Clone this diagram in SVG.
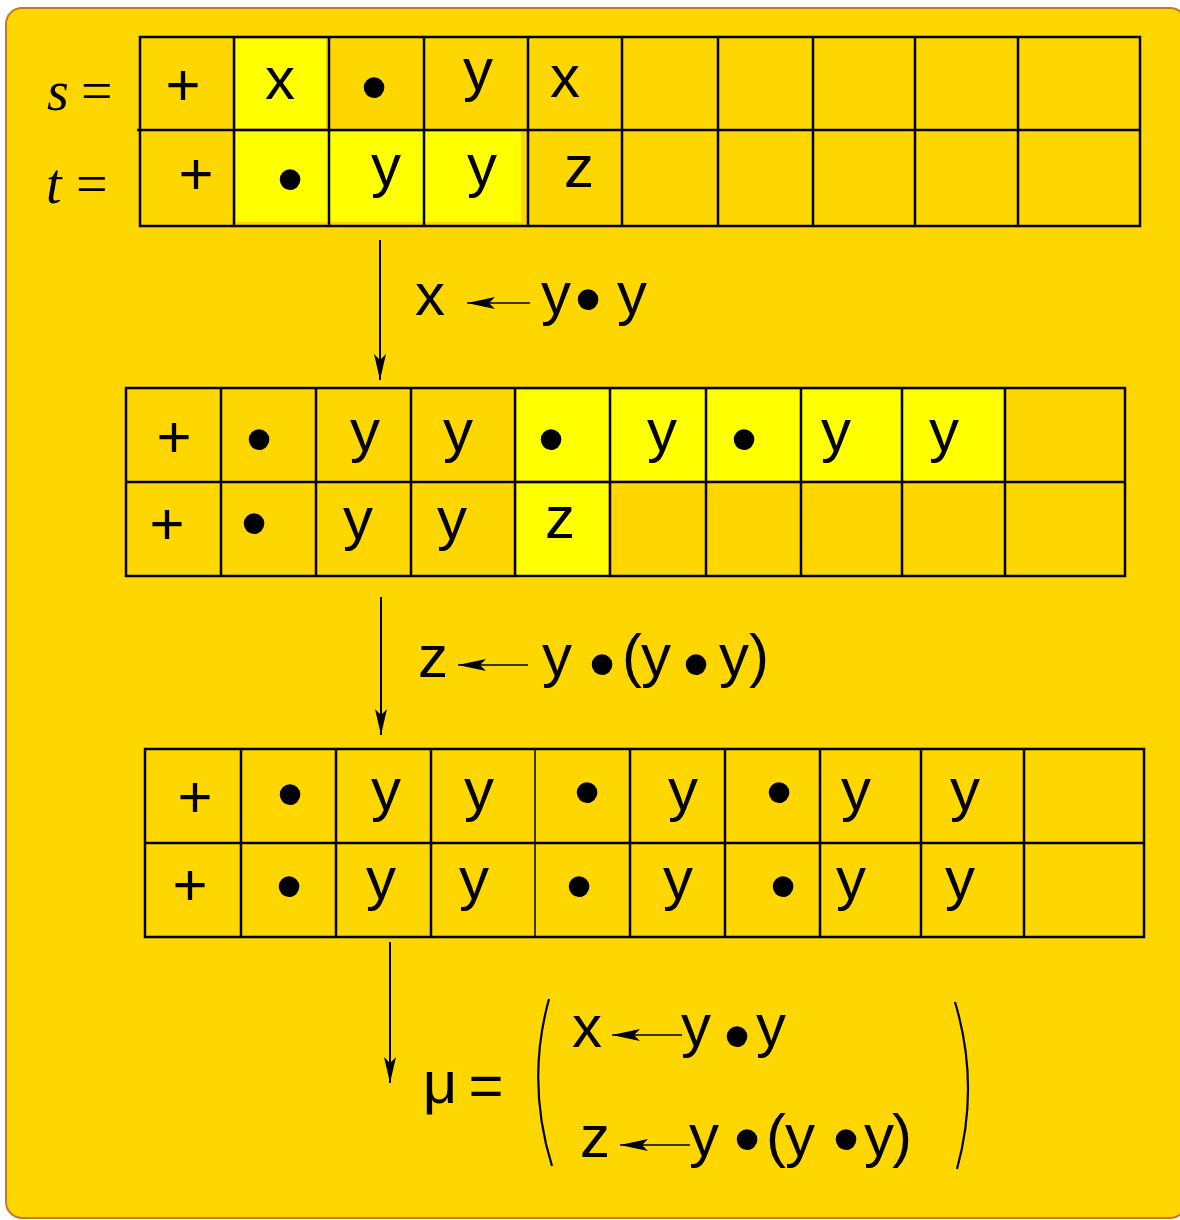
<svg xmlns="http://www.w3.org/2000/svg" width="1180" height="1220" viewBox="0 0 1180 1220">
<style>
.t{font-family:"Liberation Sans",Arial,sans-serif;font-size:60px;fill:#000;text-anchor:middle}
.b{font-family:"Liberation Sans",Arial,sans-serif;font-size:76px;fill:#000;text-anchor:middle}
.m{font-family:"Liberation Serif","Times New Roman",serif;font-size:56px;fill:#000}
.grid{fill:none;stroke:#000;stroke-width:2.5}
.hl{fill:#FFFF00}
.conn{fill:none;stroke:#000;stroke-width:2}
.harr{fill:none;stroke:#000;stroke-width:1.6}
</style>
<defs>
<marker id="vh" viewBox="-26 -7 28 14" refX="0" refY="0" markerWidth="28" markerHeight="14" markerUnits="userSpaceOnUse" orient="auto">
<path d="M0,0 L-26,-6 L-20,0 L-26,6 Z" fill="#000"/>
</marker>
<marker id="hh" viewBox="-28 -7 30 14" refX="0" refY="0" markerWidth="30" markerHeight="14" markerUnits="userSpaceOnUse" orient="auto">
<path d="M0,0 Q-14,-3 -28,-6 L-22,0 L-28,6 Q-14,3 0,0 Z" fill="#000"/>
</marker>
</defs>
<rect x="6" y="8" width="1180" height="1210" rx="16" fill="#FFD700" stroke="#C8782A" stroke-width="2"/>

<g id="label-s">
<text class="m" x="47" y="110" font-style="italic">s</text>
<text class="m" x="81" y="110">=</text>
</g>
<g id="label-t">
<text class="m" x="46" y="203" font-style="italic">t</text>
<text class="m" x="76" y="203">=</text>
</g>

<g id="table1">
<rect class="hl" x="236" y="39" width="90" height="89"/>
<rect class="hl" x="236" y="132" width="285" height="90"/>
<rect class="grid" x="140" y="37" width="1000" height="189"/>
<path class="grid" d="M137,130 H1140 M234,37 V226 M329,37 V226 M424,37 V226 M528,37 V226 M622,37 V226 M718,37 V226 M813,37 V226 M915,37 V226 M1018,37 V226"/>
<text class="t" x="183" y="105">+</text>
<text class="t" x="280" y="99">x</text>
<text class="b" x="374" y="113">•</text>
<text class="t" x="478" y="90">y</text>
<text class="t" x="565" y="97">x</text>
<text class="t" x="196" y="194">+</text>
<text class="b" x="290" y="205">•</text>
<text class="t" x="386" y="186">y</text>
<text class="t" x="482" y="186">y</text>
<text class="t" x="579" y="187">z</text>
</g>

<g id="table2">
<rect class="hl" x="517" y="390" width="486" height="90"/>
<rect class="hl" x="517" y="484" width="91" height="94"/>
<rect class="grid" x="126" y="388" width="999" height="188"/>
<path class="grid" d="M126,482 H1125 M221,388 V576 M316,388 V576 M411,388 V576 M515,388 V576 M610,388 V576 M706,388 V576 M801,388 V576 M902,388 V576 M1005,388 V576"/>
<text class="t" x="174" y="457">+</text>
<text class="b" x="259" y="465">•</text>
<text class="t" x="365" y="451">y</text>
<text class="t" x="458" y="451">y</text>
<text class="b" x="551" y="465">•</text>
<text class="t" x="662" y="451">y</text>
<text class="b" x="744" y="465">•</text>
<text class="t" x="836" y="451">y</text>
<text class="t" x="944" y="451">y</text>
<text class="t" x="167" y="544">+</text>
<text class="b" x="254" y="549">•</text>
<text class="t" x="358" y="539">y</text>
<text class="t" x="452" y="539">y</text>
<text class="t" x="560" y="538">z</text>
</g>

<g id="table3">
<rect class="grid" x="145" y="749" width="999" height="188"/>
<path class="grid" d="M145,843 H1144 M241,749 V937 M336,749 V937 M431,749 V937 M630,749 V937 M725,749 V937 M820,749 V937 M921,749 V937 M1024,749 V937"/>
<path d="M535,749 V937" stroke="#000" stroke-width="1.5"/>
<text class="t" x="195" y="817">+</text>
<text class="b" x="290" y="820">•</text>
<text class="t" x="386" y="810">y</text>
<text class="t" x="479" y="810">y</text>
<text class="b" x="587" y="818">•</text>
<text class="t" x="683" y="810">y</text>
<text class="b" x="779" y="818">•</text>
<text class="t" x="856" y="810">y</text>
<text class="t" x="965" y="810">y</text>
<text class="t" x="190" y="905">+</text>
<text class="b" x="289" y="912">•</text>
<text class="t" x="381" y="899">y</text>
<text class="t" x="474" y="899">y</text>
<text class="b" x="579" y="912">•</text>
<text class="t" x="678" y="899">y</text>
<text class="b" x="783" y="912">•</text>
<text class="t" x="851" y="899">y</text>
<text class="t" x="960" y="899">y</text>
</g>

<g id="subst1">
<text class="t" x="430" y="315">x</text>
<text class="t" x="556" y="314">y</text>
<text class="b" x="588" y="325">•</text>
<text class="t" x="632" y="314">y</text>
</g>
<g id="subst2">
<text class="t" x="433" y="677">z</text>
<text class="t" x="557" y="676">y</text>
<text class="b" x="602" y="690">•</text>
<text class="t" x="632" y="676">(</text>
<text class="t" x="656" y="676">y</text>
<text class="b" x="696" y="690">•</text>
<text class="t" x="734" y="676">y</text>
<text class="t" x="759" y="676">)</text>
</g>
<g id="mu">
<text class="t" x="440" y="1103">μ</text>
<text class="t" x="486" y="1106">=</text>
<path d="M549,999 Q526,1082 552,1166" fill="none" stroke="#000" stroke-width="2.2"/>
<path d="M955,1002 Q980,1085 957,1169" fill="none" stroke="#000" stroke-width="2.2"/>
<text class="t" x="587" y="1047">x</text>
<text class="t" x="696" y="1046">y</text>
<text class="b" x="737" y="1062">•</text>
<text class="t" x="771" y="1046">y</text>
<text class="t" x="595" y="1157">z</text>
<text class="t" x="704" y="1156">y</text>
<text class="b" x="747" y="1165">•</text>
<text class="t" x="776" y="1156">(</text>
<text class="t" x="800" y="1156">y</text>
<text class="b" x="846" y="1165">•</text>
<text class="t" x="879" y="1156">y</text>
<text class="t" x="902" y="1156">)</text>
</g>

<g id="connectors">
<line class="conn" x1="380" y1="240" x2="380" y2="380" marker-end="url(#vh)"/>
<line class="conn" x1="381" y1="597" x2="381" y2="735" marker-end="url(#vh)"/>
<line class="conn" x1="390" y1="942" x2="390" y2="1083" marker-end="url(#vh)"/>
<line class="harr" x1="530" y1="303" x2="467" y2="303" marker-end="url(#hh)"/>
<line class="harr" x1="528" y1="665" x2="458" y2="665" marker-end="url(#hh)"/>
<line class="harr" x1="682" y1="1035" x2="612" y2="1035" marker-end="url(#hh)"/>
<line class="harr" x1="690" y1="1145" x2="620" y2="1145" marker-end="url(#hh)"/>
</g>
</svg>
